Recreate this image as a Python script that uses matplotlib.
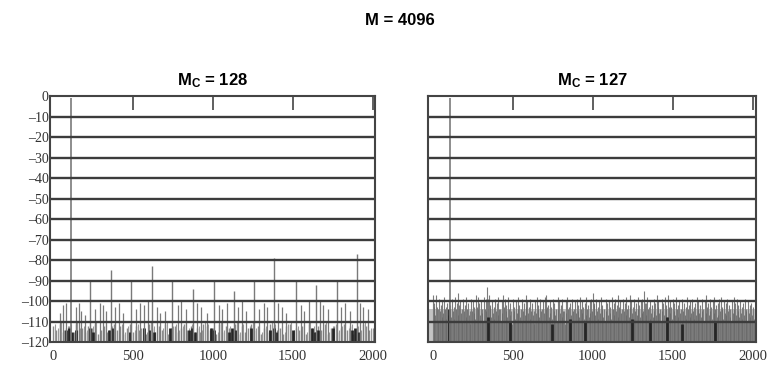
import numpy as np
import matplotlib
matplotlib.use("Agg")
import matplotlib.pyplot as plt

plt.rcParams['mathtext.fontset'] = 'custom'
plt.rcParams['mathtext.bf'] = 'Liberation Sans:bold'
plt.rcParams['mathtext.rm'] = 'Liberation Sans:bold'

# ---------------- data ----------------
suptitle = "M = 4096"
left_title = r"$\mathbf{M_C}$ = 128"
right_title = r"$\mathbf{M_C}$ = 127"

y_ticks = [0, -10, -20, -30, -40, -50, -60, -70, -80, -90, -100, -110, -120]
y_labels = ["0", "\u201310", "\u201320", "\u201330", "\u201340", "\u201350", "\u201360",
            "\u201370", "\u201380", "\u201390", "\u2013100", "\u2013110", "\u2013120"]
x_ticks = [0, 500, 1000, 1500, 2000]
x_labels = ["0", "500", "1000", "1500", "2000"]

# left panel (Mc = 128)
left_peak_bin, left_peak_db = 112, -1
left_spur_bins = [231, 362, 487, 619, 744, 875, 1006, 1131, 1256, 1381, 1519, 1644, 1775, 1900]
left_spur_db = [-90, -85, -90, -83, -90, -94, -90, -95, -90, -79, -90, -92, -90, -77]
left_sec_bins = [40, 60, 80, 140, 160, 175, 200, 260, 290, 310, 330, 390, 410, 440, 520, 545,
                 570, 595, 650, 670, 700, 780, 800, 830, 900, 925, 960, 1040, 1060, 1090,
                 1160, 1180, 1210, 1290, 1320, 1340, 1410, 1430, 1460, 1550, 1570, 1600,
                 1670, 1690, 1720, 1800, 1830, 1860, 1920, 1940, 1970]
left_sec_db = [-106, -102, -101, -103, -101, -105, -107, -104, -101, -102, -105, -103, -101,
               -106, -104, -101, -102, -100, -103, -106, -105, -102, -100, -104, -101, -103,
               -106, -102, -104, -101, -103, -100, -105, -104, -101, -103, -101, -103, -106,
               -102, -105, -100, -100, -102, -104, -103, -101, -105, -101, -103, -104]
left_floor_db = [-112, -114, -111, -115, -113, -112, -116, -111, -114, -113,
                 -115, -112, -113, -111, -116, -114, -112, -115, -113, -111,
                 -114, -112, -116, -113, -111, -115, -112, -114, -113, -116,
                 -111, -113, -115, -112, -114, -111, -116, -113, -112, -115,
                 -113, -111, -114, -112, -116, -113, -115, -111, -112, -114,
                 -113, -116, -111, -115, -112, -113, -114, -111, -116, -112,
                 -115, -113, -111, -114, -112, -116, -113, -115, -111, -112,
                 -114, -113, -116, -112, -111, -115, -113, -114, -112, -116,
                 -111, -113, -115, -112, -114, -111, -116, -113, -112, -115,
                 -113, -111, -114, -112, -116, -113, -115, -111, -112, -114, -113]
left_dark_bins = [80, 100, 120, 140, 230, 250, 350, 370, 480, 570, 600, 630, 730, 850, 870,
                  890, 990, 1010, 1100, 1120, 1140, 1240, 1360, 1380, 1400, 1500, 1620, 1640,
                  1660, 1750, 1870, 1890, 1910]
left_dark_db = [-114, -113, -115, -114, -113, -115, -114, -113, -115, -113, -114, -115, -113,
                -114, -113, -115, -113, -114, -115, -113, -114, -113, -114, -113, -115, -114,
                -113, -115, -114, -113, -114, -113, -115]

# right panel (Mc = 127)
right_peak_bin, right_peak_db = 109, -1
right_noise_db = [
    -97, -101, -97, -104, -99, -102, -100, -98, -103, -101,
    -100, -102, -99, -103, -98, -101, -96, -100, -104, -99,
    -102, -98, -101, -105, -99, -100, -103, -97, -98, -101,
    -100, -104, -98, -99, -93, -97, -102, -100, -103, -99,
    -101, -98, -104, -100, -97, -99, -102, -98, -101, -105,
    -99, -103, -100, -98, -102, -104, -99, -101, -97, -100,
    -103, -99, -101, -105, -100, -98, -102, -99, -104, -100,
    -98, -97, -102, -100, -103, -99, -101, -104, -98, -100,
    -102, -99, -105, -100, -98, -103, -101, -99, -104, -100,
    -99, -102, -98, -100, -103, -101, -98, -102, -100, -99,
    -96, -101, -99, -103, -100, -98, -102, -104, -99, -101,
    -100, -103, -98, -101, -99, -102, -97, -100, -104, -99,
    -101, -98, -102, -97, -100, -103, -99, -101, -98, -102,
    -100, -99, -95, -101, -98, -103, -100, -102, -99, -101,
    -97, -100, -104, -99, -101, -98, -102, -97, -100, -103,
    -99, -101, -98, -102, -100, -104, -99, -101, -103, -98,
    -102, -100, -99, -103, -101, -98, -100, -102, -99, -104,
    -100, -97, -101, -99, -103, -100, -98, -102, -101, -99,
    -98, -103, -100, -101, -99, -102, -104, -100, -98, -101,
    -99, -102, -100, -103, -101, -99, -104, -100, -102, -101, -103]
right_dark_bins = [100, 344, 481, 744, 856, 950, 1244, 1356, 1462, 1556, 1762]
right_dark_db = [-104, -108, -110, -111, -109, -110, -109, -110, -108, -111, -110]

floor_db = -120
right_band_top = -104

# ---------------- figure ----------------
fig = plt.figure(figsize=(7.67, 3.67), dpi=100)
axL = fig.add_axes([0.0652, 0.0681, 0.4237, 0.6703])
axR = fig.add_axes([0.558, 0.0681, 0.4276, 0.6703])

line_gray = '#7a7a7a'
grid_c = '#3c3c3c'

def style(ax, xlim, show_y):
    ax.set_xlim(*xlim)
    ax.set_ylim(-120, 0)
    ax.set_yticks(y_ticks)
    if show_y:
        ax.set_yticklabels(y_labels, family='Liberation Serif', fontsize=10, color='#333333')
    else:
        ax.set_yticklabels([])
    ax.tick_params(axis='y', length=0, pad=1)
    ax.set_xticks(x_ticks)
    ax.set_xticklabels(x_labels, family='Liberation Serif', fontsize=10.5, color='#333333')
    ax.tick_params(axis='x', top=True, bottom=False, direction='in', length=10,
                   width=1.2, color='#444444', labeltop=False, labelbottom=True, pad=6)
    ax.xaxis.get_major_ticks()[0].tick2line.set_visible(False)
    for yv in y_ticks[1:-1]:
        ax.axhline(yv, color=grid_c, lw=1.7, zorder=5)
    for s in ax.spines.values():
        s.set_linewidth(1.5)
        s.set_color('#444444')
        s.set_zorder(6)

# left panel
bins_floor = np.arange(len(left_floor_db)) * 20
axL.vlines(bins_floor, floor_db, left_floor_db, color='#8a8a8a', lw=1.0, zorder=2)
axL.vlines(np.array(bins_floor) + 10, floor_db, np.array(left_floor_db) + 1, color='#9a9a9a', lw=0.8, zorder=2)
axL.vlines(left_dark_bins, floor_db, left_dark_db, color='#252525', lw=2.0, zorder=3)
axL.vlines(left_sec_bins, floor_db, left_sec_db, color=line_gray, lw=0.9, zorder=3)
axL.vlines(left_spur_bins, floor_db, left_spur_db, color=line_gray, lw=1.0, zorder=3)
axL.vlines([left_peak_bin], floor_db, [left_peak_db], color=line_gray, lw=1.2, zorder=3)
style(axL, (-20, 2015), True)
axL.set_title(left_title, family='Liberation Sans', fontweight='bold', fontsize=12, pad=8)

# right panel
bins_r = np.arange(len(right_noise_db)) * 10
axR.fill_between([-30, 2020], floor_db, right_band_top, color='#c4c4c4', lw=0, zorder=1)
axR.vlines(bins_r, floor_db, right_noise_db, color='#7c7c7c', lw=0.8, zorder=2)
axR.vlines(bins_r + 5, floor_db, np.array(right_noise_db) - 6, color='#686868', lw=0.6, zorder=2)
axR.vlines(right_dark_bins, floor_db, right_dark_db, color='#252525', lw=2.0, zorder=3)
axR.vlines([right_peak_bin], floor_db, [right_peak_db], color=line_gray, lw=1.2, zorder=3)
style(axR, (-30, 2020), False)
axR.set_title(right_title, family='Liberation Sans', fontweight='bold', fontsize=12, pad=8)

fig.text(0.5215, 0.945, suptitle, family='Liberation Sans', fontweight='bold',
         fontsize=12, ha='center', va='center')

fig.savefig("out.png", dpi=100, facecolor='white')
